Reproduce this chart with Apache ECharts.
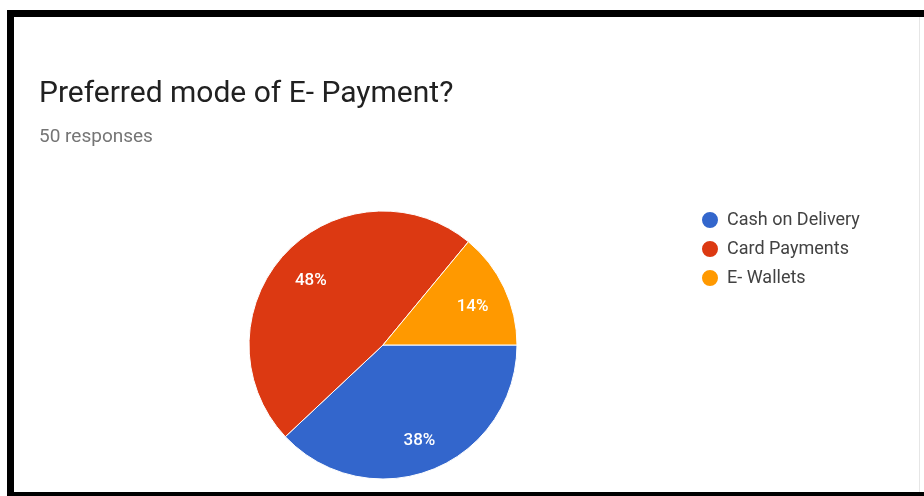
<!DOCTYPE html>
<html>
<head>
<meta charset="utf-8">
<script src="https://cdn.jsdelivr.net/npm/echarts@6/dist/echarts.min.js"></script>
<style>
  html, body { margin: 0; padding: 0; background: #ffffff; }
  #chart { width: 924px; height: 496px; }
</style>
</head>
<body>
<div id="chart"></div>
<script>
// Survey answers: preferred mode of e-payment (50 responses)
const categories = ['Cash on Delivery', 'Card Payments', 'E- Wallets'];
const responses = [19, 24, 7];
const sliceColors = ['#3366cc', '#dc3912', '#ff9900'];
const titleText = 'Preferred mode of E- Payment?';
const subtitleText = '50 responses';

const pieData = categories.map((name, i) => ({ name: name, value: responses[i] }));
const total = responses.reduce((a, b) => a + b, 0);

const chart = echarts.init(document.getElementById('chart'), null, { renderer: 'canvas' });

chart.setOption({
  backgroundColor: '#ffffff',
  animation: false,
  color: sliceColors,
  title: {
    text: titleText,
    subtext: subtitleText,
    left: 34,
    top: 74,
    itemGap: 19,
    textStyle: {
      fontFamily: 'Roboto',
      fontSize: 30,
      lineHeight: 30,
      fontWeight: 'normal',
      color: '#212121'
    },
    subtextStyle: {
      fontFamily: 'Roboto',
      fontSize: 19,
      lineHeight: 19,
      color: '#757575'
    }
  },
  legend: {
    orient: 'vertical',
    left: 695,
    top: 205,
    icon: 'circle',
    itemWidth: 18,
    itemHeight: 18,
    itemGap: 9,
    data: categories,
    textStyle: {
      fontFamily: 'Roboto',
      fontSize: 18,
      lineHeight: 18,
      color: '#424242',
      padding: [0, 0, 0, 3]
    }
  },
  series: [
    {
      name: 'mode',
      type: 'pie',
      center: [383, 345],
      radius: [0, 134],
      startAngle: 0,
      clockwise: true,
      label: { show: false },
      labelLine: { show: false },
      emphasis: { disabled: true },
      itemStyle: { borderColor: '#ffffff', borderWidth: 1 },
      data: pieData
    },
    {
      // transparent ring carrying the percentage labels further out
      name: 'labels',
      type: 'pie',
      center: [383, 345],
      radius: [58, 134],
      startAngle: 0,
      clockwise: true,
      silent: true,
      legendHoverLink: false,
      itemStyle: { color: 'rgba(0,0,0,0)' },
      label: {
        show: true,
        position: 'inside',
        offset: [0, 4],
        fontFamily: 'Roboto',
        fontSize: 17,
        fontWeight: 500,
        color: '#ffffff',
        formatter: p => Math.round(p.value / total * 100) + '%'
      },
      labelLine: { show: false },
      emphasis: { disabled: true },
      data: pieData
    }
  ],
  graphic: [
    { type: 'rect', shape: { x: 7, y: 10, width: 917, height: 7 }, style: { fill: '#000000' } },
    { type: 'rect', shape: { x: 7, y: 10, width: 7, height: 486 }, style: { fill: '#000000' } },
    { type: 'rect', shape: { x: 7, y: 492, width: 917, height: 4 }, style: { fill: '#000000' } },
    { type: 'rect', shape: { x: 919, y: 17, width: 1, height: 475 }, style: { fill: '#e6e6e6' } }
  ]
});
</script>
</body>
</html>
